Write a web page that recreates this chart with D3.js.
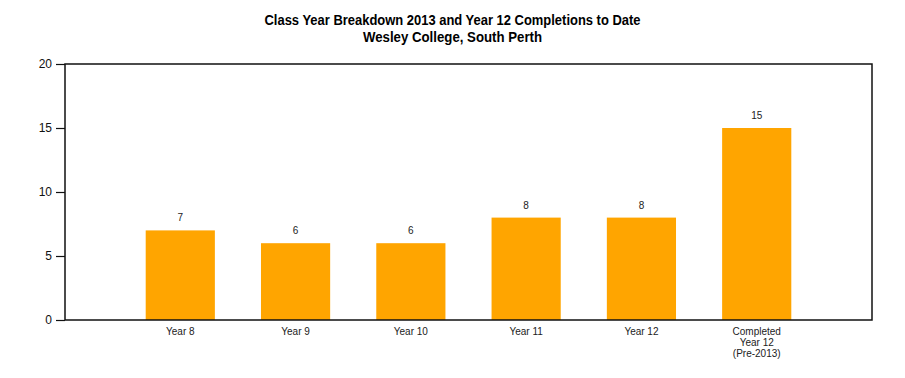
<!DOCTYPE html>
<html>
<head>
<meta charset="utf-8">
<script src="https://cdn.jsdelivr.net/npm/d3@7"></script>
<style>
  body { margin: 0; background: #fff; }
  text { font-family: "Liberation Sans", Arial, sans-serif; }
</style>
</head>
<body>
<div id="chart-area"></div>
<script>
const categories = ["Year 8", "Year 9", "Year 10", "Year 11", "Year 12", "Completed\nYear 12\n(Pre-2013)"];
const counts = [7, 6, 6, 8, 8, 15];
const yTicks = [0, 5, 10, 15, 20];
const titleLines = ["Class Year Breakdown 2013 and Year 12 Completions to Date", "Wesley College, South Perth"];

const W = 905, H = 378;
const margin = {top: 64, right: 33, bottom: 58, left: 65};
const width = W - margin.left - margin.right;
const height = H - margin.top - margin.bottom;

const svg = d3.select("#chart-area")
  .append("svg")
    .attr("width", W)
    .attr("height", H);

// title
const titleWidths = [376, 179];
svg.selectAll(".title")
  .data(titleLines)
  .join("text")
    .attr("class", "title")
    .attr("x", W / 2)
    .attr("y", (d, i) => 25 + i * 17)
    .attr("text-anchor", "middle")
    .attr("font-weight", "bold")
    .attr("font-size", "14px")
    .attr("fill", "#000")
    .attr("textLength", (d, i) => titleWidths[i])
    .attr("lengthAdjust", "spacingAndGlyphs")
    .text(d => d);

const g = svg.append("g")
  .attr("transform", `translate(${margin.left}, ${margin.top})`);

const x = d3.scaleBand()
  .domain(categories)
  .range([0, width])
  .paddingInner(0.4)
  .paddingOuter(0.7);

const y = d3.scaleLinear().domain([0, 20]).range([height, 0]);

// bars
g.selectAll(".bar")
  .data(categories)
  .join("rect")
    .attr("class", "bar")
    .attr("x", d => x(d))
    .attr("y", (d, i) => y(counts[i]))
    .attr("width", x.bandwidth())
    .attr("height", (d, i) => height - y(counts[i]))
    .attr("fill", "#FFA500");

// value labels
g.selectAll(".val")
  .data(categories)
  .join("text")
    .attr("class", "val")
    .attr("x", d => x(d) + x.bandwidth() / 2)
    .attr("y", (d, i) => y(counts[i]) - 9)
    .attr("text-anchor", "middle")
    .attr("font-size", "10px")
    .attr("fill", "#222")
    .text((d, i) => counts[i]);

// frame
g.append("rect")
  .attr("width", width)
  .attr("height", height)
  .attr("fill", "none")
  .attr("stroke", "#111")
  .attr("stroke-width", 1.5);

// y axis
const yAxis = g.append("g")
  .call(d3.axisLeft(y).tickValues(yTicks).tickSize(9).tickPadding(4));
yAxis.select(".domain").remove();
yAxis.selectAll("line").attr("stroke", "#111").attr("stroke-width", 1.2);
yAxis.selectAll("text")
  .attr("font-size", "12px")
  .attr("fill", "#111")
  .style("font-family", "'Liberation Sans', Arial, sans-serif");

// x axis labels
const xAxis = g.append("g")
  .attr("transform", `translate(0, ${height})`)
  .call(d3.axisBottom(x).tickSize(0).tickPadding(0).tickFormat(""));
xAxis.select(".domain").remove();
xAxis.selectAll(".tick").each(function(d) {
  const t = d3.select(this).append("text")
    .attr("text-anchor", "middle")
    .attr("font-size", "10px")
    .attr("fill", "#222")
    .style("font-family", "'Liberation Sans', Arial, sans-serif");
  d.split("\n").forEach((line, i) => {
    t.append("tspan").attr("x", 0).attr("y", 15 + i * 11).text(line);
  });
});
</script>
</body>
</html>
